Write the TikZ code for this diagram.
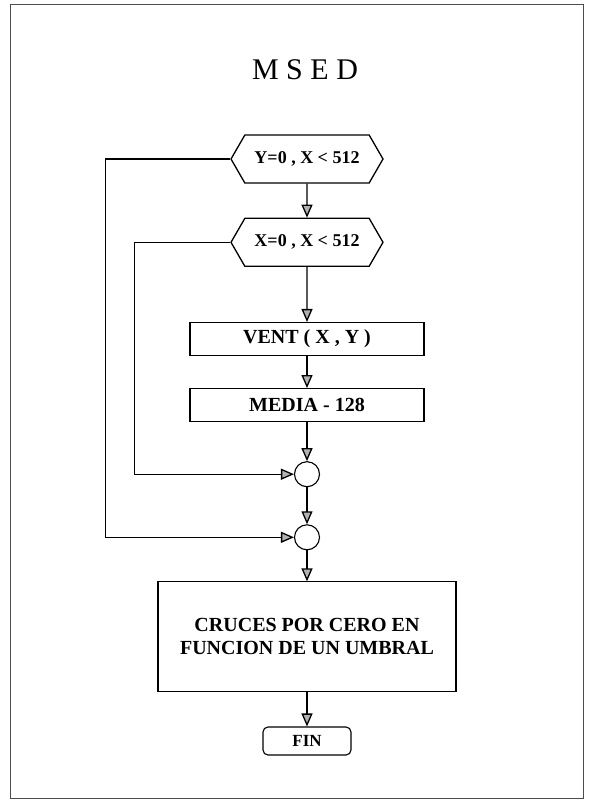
\documentclass[tikz,border=0pt]{standalone}
\usepackage{fontspec}
\setmainfont{Liberation Serif}
\usetikzlibrary{arrows.meta, positioning, shapes.symbols}

\begin{document}
\begin{tikzpicture}[x=1pt, y=-1pt,
  box/.style={draw, line width=1.1pt, align=center, minimum width=234pt, minimum height=33pt, inner sep=2pt, font=\fontsize{20}{23}\selectfont\bfseries},
  hexbox/.style={draw, line width=1.3pt, signal, signal to=west and east, signal pointer angle=120, minimum width=152pt, minimum height=48pt, inner sep=2pt, font=\fontsize{18}{21}\selectfont\bfseries},
  bigbox/.style={box, minimum width=298pt, minimum height=110pt, font=\fontsize{20}{23}\selectfont\bfseries},
  endbox/.style={box, rounded corners=5pt, minimum width=88pt, minimum height=28pt, font=\fontsize{17}{20}\selectfont\bfseries},
  junc/.style={draw, circle, line width=1.1pt, minimum size=25pt, inner sep=0pt},
  arr/.style={-{Triangle[length=13pt, width=11pt, fill=black!30]}, line width=1.3pt}
]
\useasboundingbox (0,0) rectangle (590,804);
\draw[line width=1pt, black!70] (10,4) rectangle (583,798);
\node[font=\fontsize{30}{34}\selectfont] (title) at (305,70) {M S E D};
\node[hexbox] (yloop) at (307,159) {Y=0 , X < 512};
\node[hexbox, below=34pt of yloop] (xloop) {X=0 , X < 512};
\node[box, below=55pt of xloop] (vent) {VENT ( X , Y )};
\node[box, below=32pt of vent] (media) {MEDIA - 128};
\node[junc, below=39pt of media] (jx) {};
\node[junc, below=37pt of jx] (jy) {};
\node[bigbox, below=31pt of jy] (cruces) {CRUCES POR CERO EN\\FUNCION DE UN UMBRAL};
\node[endbox, below=34pt of cruces] (fin) {FIN};
\draw[arr] (yloop) -- (xloop);
\draw[arr] (xloop) -- (vent);
\draw[arr] (vent) -- (media);
\draw[arr] (media) -- (jx);
\draw[arr] (jx) -- (jy);
\draw[arr] (jy) -- (cruces);
\draw[arr] (cruces) -- (fin);
% loop returns
\draw[arr] (xloop.west) -- ++(-96,0) |- (jx);
\draw[arr] (yloop.west) -- ++(-125,0) |- (jy);
\end{tikzpicture}
\end{document}
